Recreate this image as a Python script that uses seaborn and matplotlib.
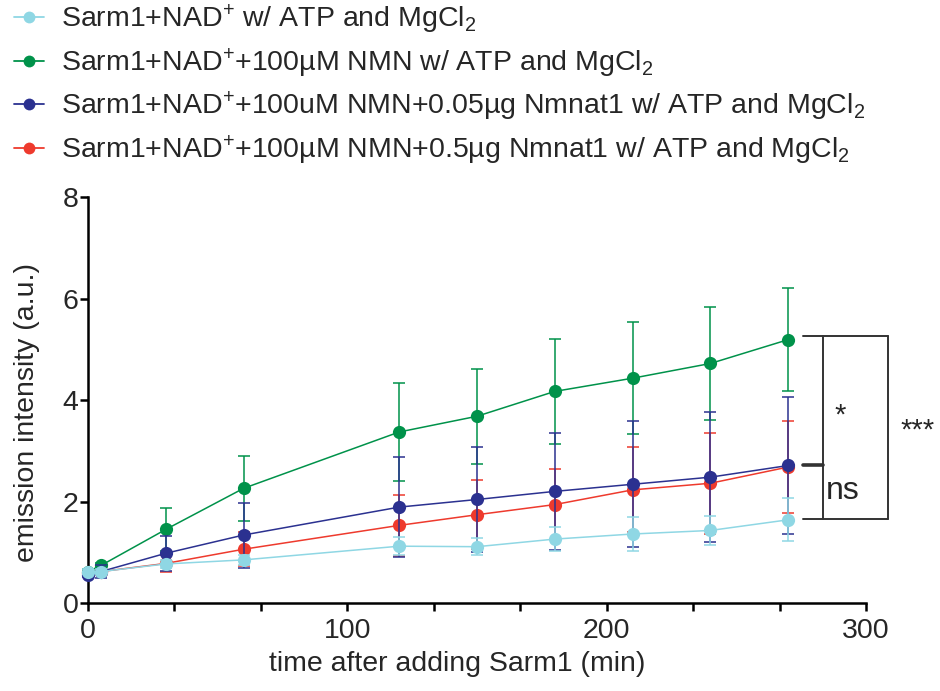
import pandas as pd
import numpy as np
import matplotlib
matplotlib.use("Agg")
import matplotlib.pyplot as plt
from matplotlib.lines import Line2D
import seaborn as sns

# time points (min)
times = [0, 5, 30, 60, 120, 150, 180, 210, 240, 270]

# means and SD
nad_mean = [0.62, 0.62, 0.77, 0.85, 1.12, 1.11, 1.26, 1.36, 1.43, 1.64]
nad_sd = [0.05, 0.05, 0.08, 0.10, 0.18, 0.17, 0.23, 0.34, 0.29, 0.42]
nmn_mean = [0.62, 0.74, 1.45, 2.26, 3.37, 3.68, 4.17, 4.43, 4.72, 5.19]
nmn_sd = [0.05, 0.05, 0.42, 0.64, 0.96, 0.94, 1.04, 1.10, 1.12, 1.02]
n005_mean = [0.56, 0.62, 0.98, 1.34, 1.89, 2.04, 2.20, 2.34, 2.48, 2.71]
n005_sd = [0.05, 0.12, 0.34, 0.64, 0.98, 1.03, 1.16, 1.24, 1.28, 1.34]
n05_mean = [0.60, 0.62, 0.78, 1.06, 1.53, 1.74, 1.94, 2.23, 2.36, 2.68]
n05_sd = [0.05, 0.05, 0.16, 0.34, 0.60, 0.68, 0.70, 0.84, 1.00, 0.90]

labels = [
    r"Sarm1+NAD$^{+}$ w/ ATP and MgCl$_{2}$",
    r"Sarm1+NAD$^{+}$+100µM NMN w/ ATP and MgCl$_{2}$",
    r"Sarm1+NAD$^{+}$+100uM NMN+0.05µg Nmnat1 w/ ATP and MgCl$_{2}$",
    r"Sarm1+NAD$^{+}$+100µM NMN+0.5µg Nmnat1 w/ ATP and MgCl$_{2}$",
]
colors = ["#8fd7e4", "#00924a", "#2b3190", "#ee3a2d"]
means = [nad_mean, nmn_mean, n005_mean, n05_mean]
sds = [nad_sd, nmn_sd, n005_sd, n05_sd]

sns.set_style("ticks")
plt.rcParams["font.family"] = ["Liberation Sans", "DejaVu Sans"]
plt.rcParams["mathtext.default"] = "regular"

rows = []
for lab, m, s in zip(labels, means, sds):
    for t, v, e in zip(times, m, s):
        rows.append({"time": t, "value": v, "sd": e, "cond": lab})
df = pd.DataFrame(rows)

fig = plt.figure(figsize=(9.4, 6.91), dpi=100)
ax = fig.add_axes([0.0936, 0.1273, 0.8277, 0.5876])

# draw order: red, green, navy, cyan (cyan on top)
order = [3, 1, 2, 0]
for z, i in enumerate(order):
    sub = df[df["cond"] == labels[i]]
    ax.errorbar(sub["time"], sub["value"], yerr=sub["sd"], fmt="none",
                ecolor=colors[i], elinewidth=1.1, capsize=4.3, capthick=1.1,
                zorder=2 + z * 2, clip_on=False)
    sns.lineplot(data=sub, x="time", y="value", color=colors[i], marker="o",
                 markersize=9.5, markeredgewidth=0, linewidth=1.1, ax=ax,
                 errorbar=None, zorder=3 + z * 2, clip_on=False)

ax.set_xlim(0, 300)
ax.set_ylim(0, 8)
ax.set_xticks([0, 100, 200, 300])
ax.set_xticks(np.arange(0, 301, 100 / 3), minor=True)
ax.set_yticks([0, 2, 4, 6, 8])
ax.tick_params(axis="both", which="both", direction="out", width=1.8,
               length=6, labelsize=20.5, color="black")
ax.tick_params(axis="y", pad=1)
ax.tick_params(axis="x", pad=5)
sns.despine(ax=ax)
for sp in ["left", "bottom"]:
    ax.spines[sp].set_linewidth(1.8)
    ax.spines[sp].set_color("black")

ax.set_xlabel("time after adding Sarm1 (min)", fontsize=20.5)
ax.set_ylabel("emission intensity (a.u.)", fontsize=20.5)
ax.xaxis.set_label_coords(0.474, -0.118)
ax.yaxis.set_label_coords(-0.062, 0.47)

# significance brackets
bk = dict(color="#333333", lw=1.4, clip_on=False, zorder=20)
x0, xi, xo = 275.7, 283.5, 308.5
ytop, ymid, ybot = 5.26, 2.72, 1.655
ax.plot([x0, xo], [ytop, ytop], **bk)
ax.plot([x0, xo], [ybot, ybot], **bk)
ax.plot([xi, xi], [ytop, ybot], **bk)
ax.plot([xo, xo], [ytop, ybot], **bk)
ax.plot([x0, xi], [ymid, ymid], color="#333333", lw=2.6, clip_on=False, zorder=20)
ax.text(290, 3.7, "*", fontsize=21, ha="center", va="center")
ax.text(320, 3.4, "***", fontsize=21, ha="center", va="center")
ax.text(284.5, 2.2, "ns", fontsize=23, ha="left", va="center")

handles = [Line2D([], [], color=c, marker="o", markersize=8.5,
                  markeredgewidth=0, lw=1.3) for c in colors]
fig.legend(handles, labels, loc="upper left", bbox_to_anchor=(0.012, 1.0),
           frameon=False, fontsize=20.5, handlelength=1.05, handletextpad=0.6,
           labelspacing=0.36, borderpad=0.0, borderaxespad=0.1)

fig.savefig("out.png", dpi=100)
